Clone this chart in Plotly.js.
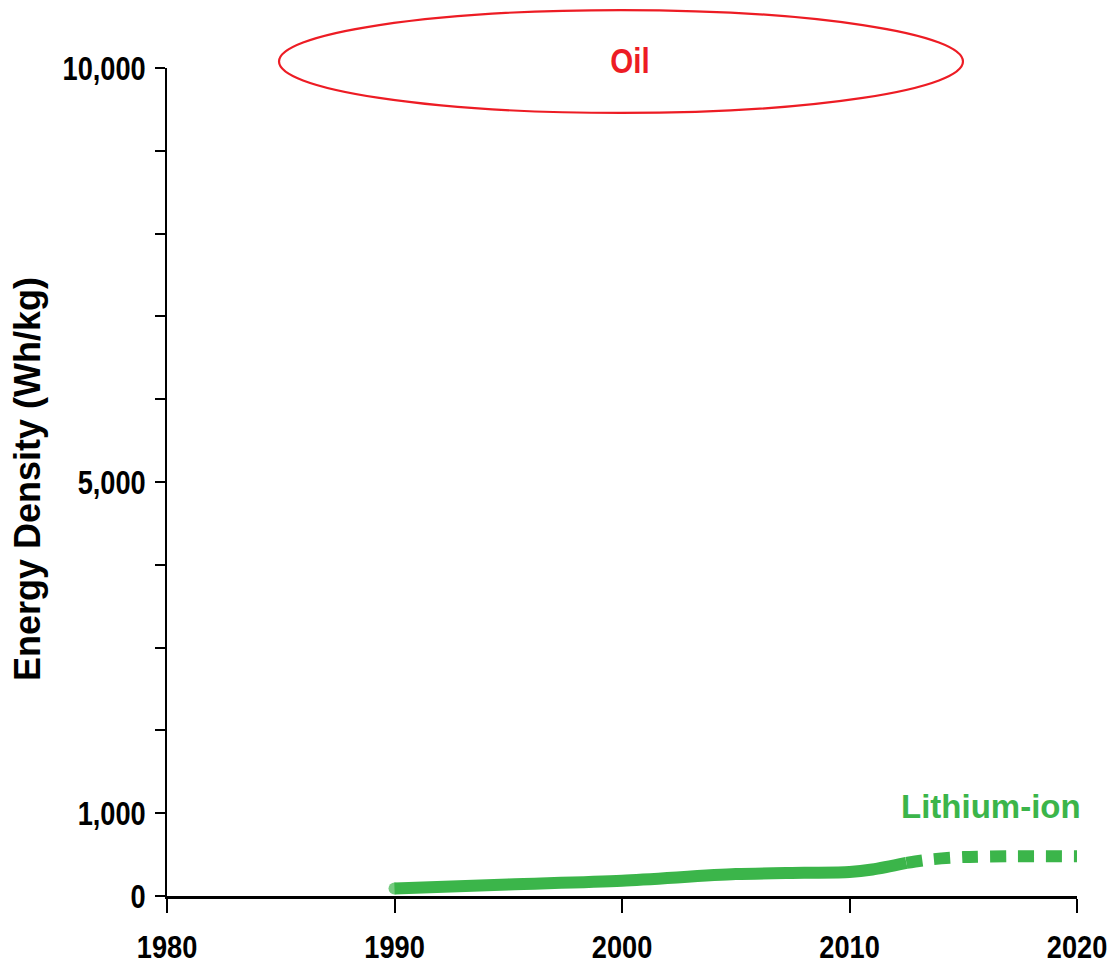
<!DOCTYPE html>
<html>
<head>
<meta charset="utf-8">
<script src="https://cdn.plot.ly/plotly-3.0.1.min.js"></script>
<style>html,body{margin:0;padding:0;background:#fff;}#chart{width:1114px;height:965px;}</style>
</head>
<body>
<div id="chart"></div>
<script>
// Data
const liionYears = [1990, 1995, 2000, 2005, 2008, 2010, 2011, 2012.5];
const liionValues = [90, 140, 185, 265, 280, 290, 320, 400];
const liionProjYears = [2012.5, 2013.5, 2015, 2017, 2020];
const liionProjValues = [400, 440, 470, 480, 480];
const yTickVals = [0, 1000, 2000, 3000, 4000, 5000, 6000, 7000, 8000, 9000, 10000];
const yTickText = ['0', '1,000', '', '', '', '5,000', '', '', '', '', '10,000'];
const xTickVals = [1980, 1990, 2000, 2010, 2020];
const xTickText = ['1980', '1990', '2000', '2010', '2020'];
const seriesLabel = 'Lithium-ion';
const oilLabel = 'Oil';
const yTitle = 'Energy Density (Wh/kg)';

const green = '#3BB54A';
const red = '#ED1C24';
const fam = '"Liberation Sans", Arial, Helvetica, sans-serif';

const traces = [
  {
    x: liionYears, y: liionValues, mode: 'lines+markers', type: 'scatter',
    line: {color: green, width: 12, shape: 'spline', smoothing: 0.8},
    marker: {color: green, size: liionYears.map((v, i) => i === 0 ? 12 : 0), line: {width: 0}},
    hoverinfo: 'skip', cliponaxis: false
  },
  {
    x: liionProjYears, y: liionProjValues, mode: 'lines', type: 'scatter',
    line: {color: green, width: 12, shape: 'spline', smoothing: 0.8, dash: '16px,12px'},
    hoverinfo: 'skip', cliponaxis: false
  }
];

const layout = {
  width: 1114, height: 965,
  margin: {l: 167, r: 37, t: 68, b: 69},
  paper_bgcolor: '#fff', plot_bgcolor: '#fff',
  showlegend: false,
  xaxis: {
    range: [1980, 2020], tickvals: xTickVals, ticktext: xTickText,
    showgrid: false, zeroline: false, showline: true, linecolor: '#000', linewidth: 2.5,
    ticks: 'outside', ticklen: 14, tickwidth: 2, tickcolor: '#000',
    ticklabelstandoff: 7, ticklabeloverflow: 'allow',
    tickfont: {family: fam, size: 32, color: '#000', weight: 'bold'}
  },
  yaxis: {
    range: [0, 10000], tickvals: yTickVals, ticktext: yTickText,
    showgrid: false, zeroline: false, showline: true, linecolor: '#000', linewidth: 2.5,
    ticks: 'outside', ticklen: 10, tickwidth: 2, tickcolor: '#000',
    ticklabelstandoff: 2, ticklabeloverflow: 'allow',
    tickfont: {family: fam, size: 34, color: '#000', weight: 'bold'}
  },
  shapes: [
    {type: 'circle', xref: 'paper', yref: 'paper', x0: 0.1231, x1: 0.8747, y0: 0.9457, y1: 1.070,
     line: {color: red, width: 2.2}, fillcolor: 'rgba(0,0,0,0)'}
  ],
  annotations: [
    {text: oilLabel, xref: 'paper', yref: 'paper', x: 0.5088, y: 1.0085, xanchor: 'center', yanchor: 'middle',
     showarrow: false, font: {family: fam, size: 36, color: red, weight: 'bold'}},
    {text: seriesLabel, xref: 'x', yref: 'y', x: 2016.2, y: 1075, xanchor: 'center', yanchor: 'middle',
     showarrow: false, font: {family: fam, size: 33, color: green, weight: 'bold'}},
    {text: yTitle, xref: 'paper', yref: 'paper', x: -0.1538, y: 0.5036, xanchor: 'center', yanchor: 'middle',
     showarrow: false, textangle: -90, font: {family: fam, size: 36, color: '#000', weight: 'bold'}}
  ]
};

function condense(el, sx) {
  const x = parseFloat(el.getAttribute('x')) || 0;
  const y = parseFloat(el.getAttribute('y')) || 0;
  const prev = el.getAttribute('transform') || '';
  el.setAttribute('transform', (prev + ' translate(' + x + ',' + y + ') scale(' + sx + ',1) translate(' + (-x) + ',' + (-y) + ')').trim());
}

Plotly.newPlot('chart', traces, layout, {staticPlot: true, displayModeBar: false}).then(function () {
  document.querySelectorAll('.xtick text').forEach(function (t) { condense(t, 0.85); });
  document.querySelectorAll('.ytick text').forEach(function (t) { condense(t, 0.8); });
  document.querySelectorAll('.annotation-text').forEach(function (t) {
    if (t.textContent === oilLabel) condense(t, 0.82);
  });
});
</script>
</body>
</html>
